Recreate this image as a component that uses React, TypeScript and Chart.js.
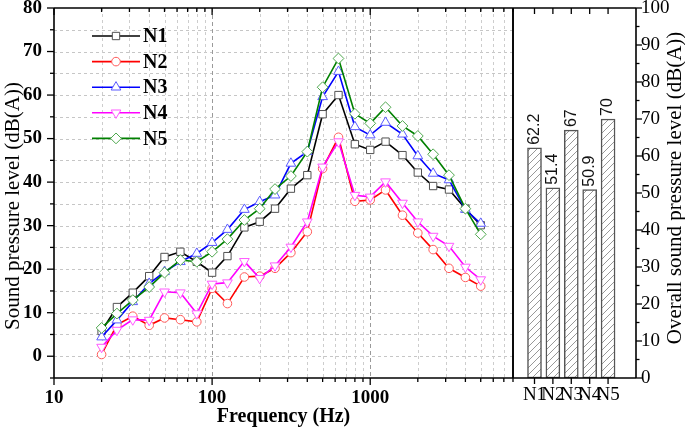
import React, { useEffect, useRef } from 'react';
import { Chart, registerables } from 'chart.js';
import { drawPoint } from 'chart.js/helpers';

Chart.register(...registerables);

// ---------------- data ----------------
const FREQS = [20, 25, 31.5, 40, 50, 63, 80, 100, 125, 160, 200, 250, 315, 400, 500, 630, 800, 1000, 1250, 1600, 2000, 2500, 3150, 4000, 5000];
const N1 = [5.8, 11.3, 14.6, 18.4, 22.8, 24.0, 21.7, 19.2, 23.0, 29.6, 30.9, 33.9, 38.5, 41.6, 55.6, 60.0, 48.7, 47.4, 49.3, 46.2, 42.2, 39.1, 38.3, 33.9, 30.1];
const N2 = [0.4, 7.2, 9.2, 7.1, 8.8, 8.4, 7.9, 15.6, 12.1, 18.2, 18.4, 20.2, 23.8, 28.6, 43.1, 50.3, 35.6, 35.9, 38.2, 32.4, 28.3, 24.5, 20.2, 18.1, 16.1];
const N3 = [4.4, 8.3, 12.5, 16.7, 19.4, 21.7, 23.6, 26.1, 29.1, 33.7, 35.5, 37.0, 44.3, 47.0, 59.6, 65.4, 52.7, 50.8, 53.7, 51.0, 46.0, 42.0, 40.5, 33.7, 30.5];
const N4 = [2.1, 6.0, 8.4, 8.3, 14.8, 14.6, 9.8, 16.6, 16.9, 21.8, 17.9, 20.8, 25.1, 30.9, 43.5, 49.3, 37.0, 36.6, 40.1, 35.2, 30.9, 27.6, 25.3, 20.5, 17.6];
const N5 = [6.5, 9.8, 12.9, 15.9, 19.2, 22.1, 21.7, 24.0, 26.9, 31.3, 33.9, 38.4, 41.4, 47.0, 61.8, 68.4, 55.7, 53.5, 57.2, 52.9, 50.6, 46.4, 41.6, 33.9, 28.0];
const SERIES_NAMES = ['N1', 'N2', 'N3', 'N4', 'N5'];
const OVERALL = [62.2, 51.4, 67, 50.9, 70];

const X_TICKS = [10, 20, 30, 40, 50, 60, 70, 80, 90, 100, 200, 300, 400, 500, 600, 700, 800, 900, 1000, 2000, 3000, 4000, 5000, 6000, 7000, 8000];
const X_LABELS = [10, 100, 1000];

const LEFT_TITLE = 'Sound pressure level (dB(A))';
const BOTTOM_TITLE = 'Frequency (Hz)';
const RIGHT_TITLE = 'Overall sound pressure level (dB(A))';

// ---------------- styles ----------------
const SERIF = '"Liberation Serif", "Times New Roman", serif';
const SANS = '"Liberation Sans", Arial, sans-serif';
const STYLES = [
  { line: '#000000', mark: '#505050', style: 'rect', r: 5.2, rot: 0 },
  { line: '#ff0000', mark: '#ff5a5a', style: 'circle', r: 4.3, rot: 0 },
  { line: '#0000ff', mark: '#5a5aff', style: 'triangle', r: 5.6, rot: 0 },
  { line: '#ff00ff', mark: '#ff5aff', style: 'triangle', r: 5.6, rot: 180 },
  { line: '#008000', mark: '#4fa84f', style: 'rectRot', r: 5.4, rot: 0 },
];

function makeHatch(): CanvasPattern | string {
  const c = document.createElement('canvas');
  const s = 7;
  c.width = s; c.height = s;
  const g = c.getContext('2d');
  if (!g) return '#fff';
  g.fillStyle = '#ffffff';
  g.fillRect(0, 0, s, s);
  g.strokeStyle = '#8c8c8c';
  g.lineWidth = 0.9;
  g.beginPath();
  g.moveTo(0, s); g.lineTo(s, 0);
  g.moveTo(-1, 1); g.lineTo(1, -1);
  g.moveTo(s - 1, s + 1); g.lineTo(s + 1, s - 1);
  g.stroke();
  return g.createPattern(c, 'repeat') || '#fff';
}

function line(ctx: CanvasRenderingContext2D, x1: number, y1: number, x2: number, y2: number) {
  ctx.beginPath();
  ctx.moveTo(x1, y1);
  ctx.lineTo(x2, y2);
  ctx.stroke();
}

function zeroPad(scale: any) {
  scale.paddingTop = 0;
  scale.paddingBottom = 0;
  scale.paddingLeft = 0;
  scale.paddingRight = 0;
}

const leftDecor = {
  id: 'leftDecor',
  beforeDatasetsDraw(chart: any) {
    const { ctx, chartArea, scales } = chart;
    const { left, right, top, bottom } = chartArea;
    const x = scales.x, y = scales.y;
    ctx.save();
    ctx.lineWidth = 1;
    for (let v = 0; v < 80; v += 5) {
      const py = Math.round(y.getPixelForValue(v)) + 0.5;
      ctx.strokeStyle = '#c6c6c6';
      ctx.setLineDash([3, 3]);
      line(ctx, left, py, right, py);
    }
    for (const t of X_TICKS) {
      if (t === 10 || t === 8000) continue;
      const px = Math.round(x.getPixelForValue(t)) + 0.5;
      const major = X_LABELS.includes(t);
      ctx.strokeStyle = major ? '#9a9a9a' : '#cdcdcd';
      ctx.setLineDash(major ? [4, 3] : [3, 3]);
      line(ctx, px, top, px, bottom);
    }
    ctx.restore();
  },
  afterDraw(chart: any) {
    const { ctx, chartArea, scales } = chart;
    const { left, right, top, bottom } = chartArea;
    const x = scales.x, y = scales.y;
    ctx.save();
    ctx.strokeStyle = '#000';
    ctx.lineWidth = 1.6;
    ctx.setLineDash([]);
    line(ctx, left, top, right, top);
    line(ctx, left, bottom, right, bottom);
    line(ctx, left, top, left, bottom);
    line(ctx, right, top, right, bottom);
    ctx.lineWidth = 1.3;
    for (let v = -5; v <= 80; v += 5) {
      const py = y.getPixelForValue(v);
      const len = v % 10 === 0 ? 7 : 4;
      line(ctx, left - len, py, left, py);
    }
    for (const t of X_TICKS) {
      const px = x.getPixelForValue(t);
      const major = X_LABELS.includes(t);
      const len = major ? 7 : 4;
      line(ctx, px, bottom, px, bottom + len);
      line(ctx, px, top, px, top + len);
    }
    // legend
    const lx1 = 92, lx2 = 140, ly0 = 36, dy = 25.6;
    chart.data.datasets.forEach((ds: any, i: number) => {
      const st = STYLES[i];
      const ly = ly0 + i * dy;
      ctx.strokeStyle = st.line;
      ctx.lineWidth = 1.6;
      line(ctx, lx1, ly, lx2, ly);
      ctx.fillStyle = '#ffffff';
      ctx.strokeStyle = st.mark;
      ctx.lineWidth = 1;
      drawPoint(ctx, { pointStyle: st.style, radius: st.r, rotation: st.rot, borderWidth: 1 } as any, (lx1 + lx2) / 2, ly);
      ctx.fillStyle = '#000';
      ctx.font = 'bold 20px ' + SERIF;
      ctx.textAlign = 'left';
      ctx.textBaseline = 'middle';
      ctx.fillText(ds.label, 143, ly + 1);
    });
    ctx.fillStyle = '#000';
    ctx.font = 'bold 20px ' + SERIF;
    ctx.textAlign = 'center';
    ctx.textBaseline = 'middle';
    ctx.fillText(BOTTOM_TITLE, (left + right) / 2, 417);
    ctx.translate(13, 206);
    ctx.rotate(-Math.PI / 2);
    ctx.font = '21px ' + SERIF;
    ctx.fillText(LEFT_TITLE, 0, 0);
    ctx.restore();
  },
};

const rightDecor = {
  id: 'rightDecor',
  afterDatasetsDraw(chart: any) {
    const { ctx } = chart;
    const meta = chart.getDatasetMeta(0);
    ctx.save();
    ctx.fillStyle = '#111';
    ctx.font = '16px ' + SANS;
    ctx.textAlign = 'left';
    ctx.textBaseline = 'middle';
    meta.data.forEach((el: any, i: number) => {
      ctx.save();
      ctx.translate(el.x, el.y - 3);
      ctx.rotate(-Math.PI / 2);
      ctx.fillText(String(OVERALL[i]), 0, 0);
      ctx.restore();
    });
    ctx.restore();
  },
  afterDraw(chart: any) {
    const { ctx, chartArea, scales } = chart;
    const { left, right, top, bottom } = chartArea;
    const x = scales.x, y = scales.y;
    ctx.save();
    ctx.strokeStyle = '#000';
    ctx.lineWidth = 1.6;
    line(ctx, left, top, right, top);
    line(ctx, left, bottom, right, bottom);
    line(ctx, left, top, left, bottom);
    line(ctx, right, top, right, bottom);
    ctx.lineWidth = 1.3;
    for (let v = 0; v <= 100; v += 5) {
      const py = y.getPixelForValue(v);
      const len = v % 10 === 0 ? 6 : 3.5;
      line(ctx, right, py, right + len, py);
    }
    for (let i = 1; i <= SERIES_NAMES.length; i++) {
      const px = x.getPixelForValue(i);
      line(ctx, px, bottom, px, bottom + 6);
      line(ctx, px, top, px, top + 6);
    }
    ctx.fillStyle = '#000';
    ctx.font = '21px ' + SERIF;
    ctx.textAlign = 'center';
    ctx.textBaseline = 'middle';
    ctx.translate(675, 188);
    ctx.rotate(-Math.PI / 2);
    ctx.fillText(RIGHT_TITLE, 0, 0);
    ctx.restore();
  },
};

export default function App() {
  const leftRef = useRef<HTMLCanvasElement | null>(null);
  const rightRef = useRef<HTMLCanvasElement | null>(null);

  useEffect(() => {
    if (!leftRef.current || !rightRef.current) return;
    const series = [N1, N2, N3, N4, N5];
    const leftChart = new Chart(leftRef.current, {
      type: 'line',
      data: {
        datasets: series.map((arr, i) => ({
          label: SERIES_NAMES[i],
          data: FREQS.map((f, k) => ({ x: f, y: arr[k] })),
          borderColor: STYLES[i].line,
          borderWidth: 1.6,
          pointStyle: STYLES[i].style as any,
          pointRadius: STYLES[i].r,
          pointRotation: STYLES[i].rot,
          pointBackgroundColor: '#ffffff',
          pointBorderColor: STYLES[i].mark,
          pointBorderWidth: 1,
          tension: 0,
          fill: false,
          order: 5 - i,
        })),
      },
      options: {
        responsive: false,
        animation: false,
        devicePixelRatio: 1,
        layout: { padding: { left: 0, top: 8, right: 172, bottom: 0 } },
        plugins: { legend: { display: false }, tooltip: { enabled: false } },
        scales: {
          x: {
            type: 'logarithmic',
            min: 10,
            max: 8000,
            grid: { display: false, drawTicks: false },
            border: { display: false },
            afterBuildTicks: (scale: any) => {
              scale.ticks = X_TICKS.map((v) => ({ value: v }));
            },
            afterFit: (scale: any) => { scale.height = 56; zeroPad(scale); },
            ticks: {
              autoSkip: false,
              maxRotation: 0,
              minRotation: 0,
              padding: 9,
              color: '#000',
              font: { family: SERIF, size: 19, weight: 'bold' },
              callback: (v: any) => (X_LABELS.includes(Number(v)) ? String(v) : ''),
            },
          },
          y: {
            type: 'linear',
            min: -5,
            max: 80,
            grid: { display: false, drawTicks: false },
            border: { display: false },
            afterFit: (scale: any) => { scale.width = 54; zeroPad(scale); },
            ticks: {
              stepSize: 5,
              autoSkip: false,
              padding: 12,
              color: '#000',
              font: { family: SERIF, size: 19, weight: 'bold' },
              callback: (v: any) => (Number(v) % 10 === 0 ? String(v) : ''),
            },
          },
        },
      },
      plugins: [leftDecor],
    } as any);

    const rightChart = new Chart(rightRef.current, {
      type: 'bar',
      data: {
        datasets: [{
          label: 'Overall',
          data: OVERALL.map((v, i) => ({ x: i + 1, y: v })),
          backgroundColor: makeHatch() as any,
          borderColor: '#555555',
          borderWidth: 1.5,
          borderSkipped: false,
          barThickness: 14,
        }],
      },
      options: {
        responsive: false,
        animation: false,
        devicePixelRatio: 1,
        layout: { padding: { left: 513, top: 8, right: 0, bottom: 0 } },
        plugins: { legend: { display: false }, tooltip: { enabled: false } },
        scales: {
          x: {
            type: 'linear',
            min: 0.5,
            max: 5.85,
            grid: { display: false, drawTicks: false },
            border: { display: false },
            afterBuildTicks: (scale: any) => {
              scale.ticks = SERIES_NAMES.map((_, i) => ({ value: i + 1 }));
            },
            afterFit: (scale: any) => { scale.height = 56; zeroPad(scale); },
            ticks: {
              autoSkip: false,
              maxRotation: 0,
              minRotation: 0,
              padding: 6,
              color: '#000',
              font: { family: SERIF, size: 19 },
              callback: (v: any) => SERIES_NAMES[Number(v) - 1] ?? '',
            },
          },
          y: {
            type: 'linear',
            position: 'right',
            min: 0,
            max: 100,
            grid: { display: false, drawTicks: false },
            border: { display: false },
            afterFit: (scale: any) => { scale.width = 49; zeroPad(scale); },
            ticks: {
              stepSize: 5,
              autoSkip: false,
              padding: 5,
              color: '#000',
              font: { family: SERIF, size: 19 },
              callback: (v: any) => (Number(v) % 10 === 0 ? String(v) : ''),
            },
          },
        },
      },
      plugins: [rightDecor],
    } as any);

    return () => {
      leftChart.destroy();
      rightChart.destroy();
    };
  }, []);

  return (
    <div style={{ position: 'absolute', left: 0, top: 0, width: 685, height: 434, background: '#fff' }}>
      <canvas ref={leftRef} width={685} height={434} style={{ position: 'absolute', left: 0, top: 0 }} />
      <canvas ref={rightRef} width={685} height={434} style={{ position: 'absolute', left: 0, top: 0 }} />
    </div>
  );
}
